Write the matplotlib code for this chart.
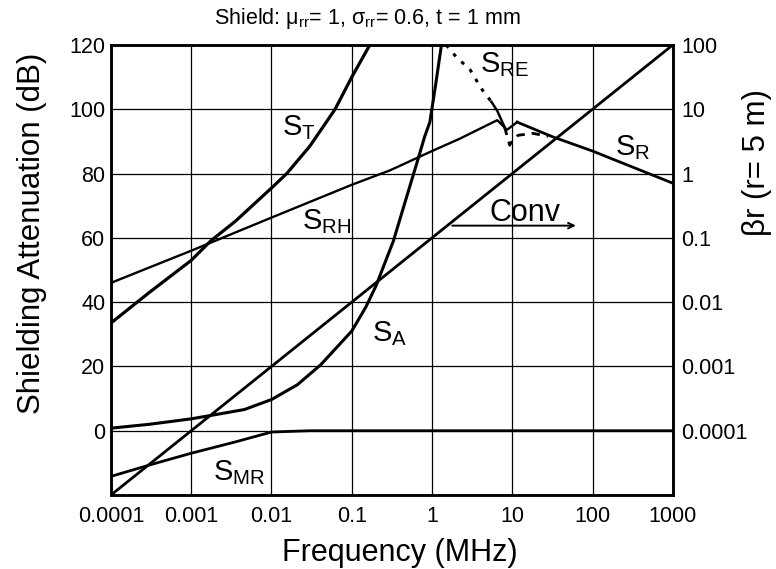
import matplotlib
matplotlib.use("Agg")
import matplotlib.pyplot as plt

plt.rcParams['font.family'] = ['Liberation Sans', 'DejaVu Sans']
plt.rcParams['mathtext.default'] = 'regular'

# Data (frequency in MHz, attenuation in dB)
st_freq = [1e-4, 3e-4, 1e-3, 1.76e-3, 3.6e-3, 1e-2, 1.55e-2, 3e-2, 6.2e-2, 0.1, 0.168]
st_db = [33.5, 43, 53, 59.1, 65.3, 75.5, 80, 88.5, 100, 110, 120]

rh_freq = [1e-4, 1e-3, 1e-2, 0.1, 0.3, 1, 2.2, 6.5, 8.6, 11.5]
rh_db = [46, 56, 66.3, 76.5, 81, 87, 90.8, 96.6, 93.6, 96]

r_freq = [11.5, 32, 100, 1000]
r_db = [96, 91.4, 87, 77]

re_freq = [1.5, 2, 3, 4.1, 5.5, 6.5, 8, 9.3, 9.6, 11.8, 18, 28]
re_db = [120, 116.3, 112.2, 106.5, 102.3, 99.5, 94.5, 88.8, 89.5, 91.9, 92.5, 91.6]

sa_freq = [1e-4, 3e-4, 1e-3, 2e-3, 4.6e-3, 1e-2, 2.1e-2, 4.1e-2, 0.1, 0.15, 0.2,
           0.33, 0.5, 0.67, 0.81, 0.94, 1.1, 1.31]
sa_db = [0.8, 2.0, 3.7, 5, 6.6, 9.7, 14.3, 20.5, 31, 38.5, 45,
         59, 74, 84.5, 91.5, 96, 107, 120]

smr_freq = [1e-4, 3.5e-4, 1e-3, 3.4e-3, 1e-2, 3e-2, 1000]
smr_db = [-14.2, -10.2, -7, -3.6, -0.4, 0, 0]

conv_freq = [1e-4, 1000]
conv_db = [-20, 120]

x_ticks = [1e-4, 1e-3, 1e-2, 0.1, 1, 10, 100, 1000]
x_labels = ['0.0001', '0.001', '0.01', '0.1', '1', '10', '100', '1000']
y_ticks = [0, 20, 40, 60, 80, 100, 120]
br_ticks = [1e-4, 1e-3, 1e-2, 0.1, 1, 10, 100]
br_labels = ['0.0001', '0.001', '0.01', '0.1', '1', '10', '100']

fig = plt.figure(figsize=(7.76, 5.69), dpi=100)
ax = fig.add_axes([0.143, 0.130, 0.724, 0.791])

ax.semilogx(conv_freq, conv_db, color='black', lw=2.0)
ax.semilogx(st_freq, st_db, color='black', lw=2.3)
ax.semilogx(rh_freq, rh_db, color='black', lw=1.7)
ax.semilogx(r_freq, r_db, color='black', lw=2.0)
ax.semilogx(sa_freq, sa_db, color='black', lw=2.2)
ax.semilogx(smr_freq, smr_db, color='black', lw=2.0)
# S_RE: dotted top part, short solid piece, dashed tail
ax.semilogx(re_freq[:5], re_db[:5], color='black', lw=2.2, linestyle=(0, (1.2, 2.5)))
ax.semilogx(re_freq[4:7], re_db[4:7], color='black', lw=1.8)
ax.semilogx(re_freq[6:], re_db[6:], color='black', lw=2.0, linestyle=(0, (3, 2.5)))

ax.set_xlim(1e-4, 1000)
ax.set_ylim(-20, 120)
ax.set_xticks(x_ticks)
ax.set_xticklabels(x_labels)
ax.minorticks_off()
ax.set_yticks(y_ticks)
ax.tick_params(axis='both', length=0, labelsize=15.5)
ax.tick_params(axis='x', pad=8)
ax.tick_params(axis='y', pad=4)
ax.grid(True, color='black', lw=0.9)
for s in ax.spines.values():
    s.set_linewidth(1.8)

ax2 = ax.twinx()
ax2.set_yscale('log')
ax2.set_ylim(1e-5, 100)
ax2.set_yticks(br_ticks)
ax2.set_yticklabels(br_labels)
ax2.minorticks_off()
ax2.tick_params(axis='y', length=0, labelsize=15.5, pad=6)
for s in ax2.spines.values():
    s.set_linewidth(1.8)

# curve labels
lab = dict(fontsize=21, ha='left', va='baseline')
ax.text(0.0135, 91.9, r'S$_{T}$', **lab)
ax.text(0.024, 62.8, r'S$_{RH}$', **lab)
ax.text(0.178, 27.8, r'S$_{A}$', **lab)
ax.text(0.00186, -15.3, r'S$_{MR}$', **lab)
ax.text(3.96, 111.6, r'S$_{RE}$', **lab)
ax.text(190, 85.6, r'S$_{R}$', **lab)
ax.text(5.25, 65.3, 'Conv', fontsize=22, ha='left', va='baseline')
ax.annotate('', xy=(67, 63.8), xytext=(1.65, 63.8),
            arrowprops=dict(arrowstyle='->', color='black', lw=1.4))

fig.text(0.474, 0.968, r'Shield: $\mu_{rr}$= 1, $\sigma_{rr}$= 0.6, t = 1 mm',
         ha='center', va='center', fontsize=15.5)
fig.text(0.041, 0.59, 'Shielding Attenuation (dB)', rotation=90,
         ha='center', va='center', fontsize=22.5)
fig.text(0.515, 0.028, 'Frequency (MHz)', ha='center', va='center', fontsize=22)
fig.text(0.976, 0.715, 'βr (r= 5 m)', rotation=90, ha='center', va='center', fontsize=22.5)

fig.savefig('out.png', dpi=100)
